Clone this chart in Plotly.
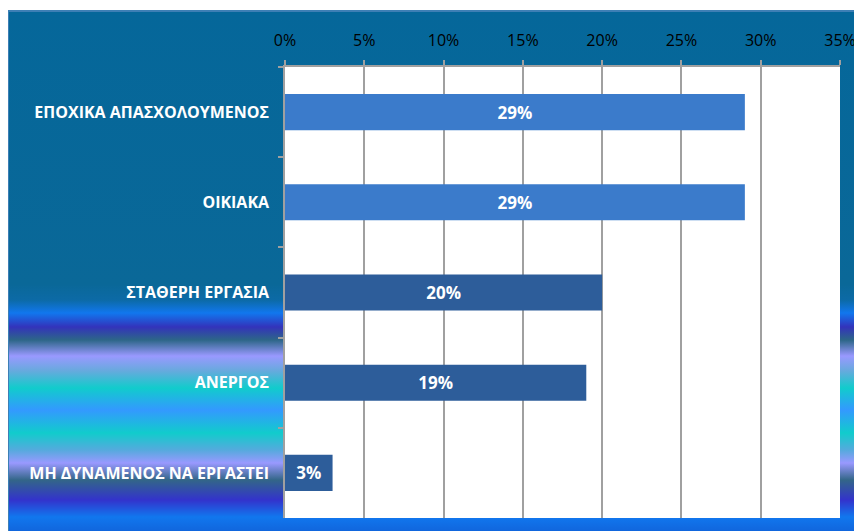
import base64
import plotly.graph_objects as go

categories = ["ΕΠΟΧΙΚΑ ΑΠΑΣΧΟΛΟΥΜΕΝΟΣ", "ΟΙΚΙΑΚΑ", "ΣΤΑΘΕΡΗ ΕΡΓΑΣΙΑ", "ΑΝΕΡΓΟΣ",
              "ΜΗ ΔΥΝΑΜΕΝΟΣ ΝΑ ΕΡΓΑΣΤΕΙ"]
values = [29, 29, 20, 19, 3]
tick_vals = [0, 5, 10, 15, 20, 25, 30, 35]
tick_text = ["0%", "5%", "10%", "15%", "20%", "25%", "30%", "35%"]

bar_colors = ["#3b7bcb", "#3b7bcb", "#2d5d9a", "#2d5d9a", "#2d5d9a"]

# Background gradient (chart area) as an inline SVG image
W, H = 863, 529
stops_px = [
    (0, "#05679a"), (274, "#0a6898"), (290, "#0c6aa6"), (303, "#1177ee"),
    (317, "#3333bb"), (330, "#2d6688"), (346, "#9999ff"), (361, "#66aadd"),
    (378, "#11cccc"), (400, "#3399ff"), (423, "#11cccc"), (440, "#55aadd"),
    (453, "#9999ff"), (470, "#336688"), (490, "#3333cc"), (507, "#1177ee"),
    (521, "#1166dd"), (529, "#1166dd"),
]
stops = "".join(
    f'<stop offset="{y / H:.4f}" stop-color="{c}"/>' for y, c in stops_px
)
svg = (
    f'<svg xmlns="http://www.w3.org/2000/svg" width="{W}" height="{H}" '
    f'viewBox="0 0 {W} {H}" preserveAspectRatio="none">'
    f'<defs><linearGradient id="g" x1="0" y1="0" x2="0" y2="1">{stops}</linearGradient></defs>'
    f'<rect x="0" y="0" width="{W}" height="{H}" fill="url(#g)"/>'
    f'<path d="M1 {H} V1 H{W}" stroke="#3d7fb5" stroke-width="2" fill="none"/>'
    f'</svg>'
)
src = "data:image/svg+xml;base64," + base64.b64encode(svg.encode()).decode()

fig = go.Figure()
fig.add_trace(go.Bar(
    x=values, y=categories, orientation="h",
    marker=dict(color=bar_colors, line=dict(width=0)),
    width=0.4,
    text=[f"{v}%" for v in values],
    textposition="inside", insidetextanchor="middle", textangle=0,
    textfont=dict(family="Open Sans", size=17, color="white", weight="bold"),
    hoverinfo="skip",
))

# plot area geometry (figure coords): x 277..832, y 59..510
FW, FH = 862, 531
L, T = 277, 59
pw, ph = 555, 451
R, B = FW - L - pw, FH - T - ph
bx, by = -1, 2  # chart box top-left in figure coords

fig.update_layout(
    width=FW, height=FH,
    margin=dict(l=L, r=R, t=T, b=B, pad=0),
    paper_bgcolor="white", plot_bgcolor="white",
    showlegend=False, hovermode=False,
    images=[dict(source=src, xref="paper", yref="paper",
                 x=(bx - L) / pw, y=1 + (T - by) / ph,
                 sizex=W / pw, sizey=H / ph,
                 xanchor="left", yanchor="top", sizing="stretch",
                 layer="below")],
    shapes=[dict(type="rect", xref="paper", yref="paper", x0=0, x1=1, y0=0, y1=1,
                 fillcolor="white", line=dict(width=0), layer="below")],
    xaxis=dict(
        side="top", range=[0, 35], tickvals=tick_vals, ticktext=tick_text,
        showgrid=True, gridcolor="#a0a0a0", gridwidth=1.5,
        showline=True, linecolor="#a0a0a0", linewidth=1.5,
        ticks="outside", ticklen=5, tickcolor="#a0a0a0", tickwidth=1.5,
        ticklabelstandoff=8,
        tickfont=dict(family="Open Sans", size=16, color="black"),
        zeroline=False, fixedrange=True,
    ),
    yaxis=dict(
        autorange="reversed", type="category",
        showline=True, linecolor="#a0a0a0", linewidth=1.5,
        ticks="outside", ticklen=5, tickcolor="#a0a0a0", tickwidth=1.5,
        tickson="boundaries", ticklabelstandoff=11,
        tickfont=dict(family="Open Sans", size=16, color="white", weight="bold"),
        showgrid=False, fixedrange=True,
    ),
)

fig.write_html("out.html")
